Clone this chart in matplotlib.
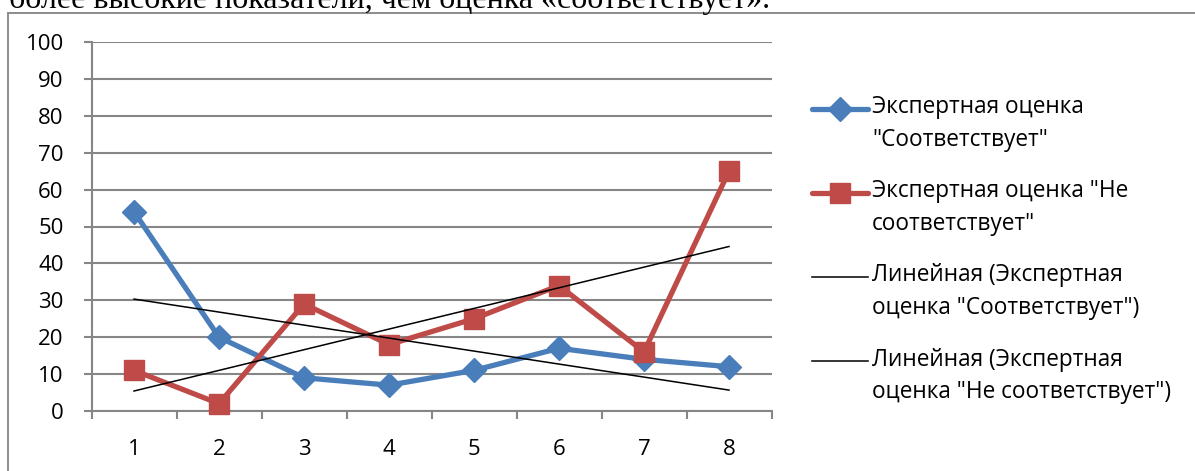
import numpy as np
import matplotlib
matplotlib.use("Agg")
import matplotlib.pyplot as plt
from matplotlib.patches import Rectangle
from matplotlib.ticker import FixedLocator, MultipleLocator
from matplotlib.legend_handler import HandlerLine2D

# ---- data ----
categories = [1, 2, 3, 4, 5, 6, 7, 8]
sootv = [54, 20, 9, 7, 11, 17, 14, 12]
ne_sootv = [11, 2, 29, 18, 25, 34, 16, 65]
label_sootv = 'Экспертная оценка\n"Соответствует"'
label_ne = 'Экспертная оценка "Не\nсоответствует"'
label_tr1 = 'Линейная (Экспертная\nоценка "Соответствует")'
label_tr2 = 'Линейная (Экспертная\nоценка "Не соответствует")'
top_text = 'более высокие показатели, чем оценка «соответствует».'

W, H = 1195, 471
plt.rcParams['font.family'] = ['Open Sans', 'DejaVu Sans']

fig = plt.figure(figsize=(W / 100, H / 100), dpi=100)
fig.patch.set_facecolor('white')

# chart frame (cropped)
fig.add_artist(Rectangle((8 / W, -0.2), 2.0, (H - 13) / H + 0.2,
                         transform=fig.transFigure, fill=False,
                         edgecolor='#8c8c8c', linewidth=1.4, clip_on=False))

fig.text(9 / W, 1 - 8 / H, top_text, family='Liberation Serif', fontsize=23,
         va='baseline', ha='left', color='black')

ax = fig.add_axes([91.5 / W, 60 / H, 680 / W, 369 / H])
ax.set_xlim(0.5, 8.5)
ax.set_ylim(0, 100)

grid_c = '#868686'
ax.yaxis.set_major_locator(MultipleLocator(10))
ax.grid(axis='y', color=grid_c, linewidth=1.5, zorder=0)
ax.set_axisbelow(True)
for s in ['top', 'right']:
    ax.spines[s].set_visible(False)
for s in ['left', 'bottom']:
    ax.spines[s].set_color(grid_c)
    ax.spines[s].set_linewidth(1.5)

ax.set_xticks(categories)
ax.set_xticklabels([str(c) for c in categories])
ax.xaxis.set_minor_locator(FixedLocator(np.arange(0.5, 9.0, 1.0)))
ax.tick_params(axis='x', which='major', length=0, pad=20, labelsize=16)
ax.tick_params(axis='x', which='minor', length=6, width=1.5, color=grid_c, direction='out')
ax.tick_params(axis='y', which='major', length=6, width=1.5, color=grid_c,
               direction='out', pad=14, labelsize=16)

blue = '#4A7EBB'
red = '#BE4B48'
x = np.array(categories, dtype=float)
l1, = ax.plot(x, sootv, color=blue, linewidth=3.8, marker='D', markersize=12.5,
              zorder=3, clip_on=False, solid_capstyle='round', solid_joinstyle='round')
l2, = ax.plot(x, ne_sootv, color=red, linewidth=3.8, marker='s', markersize=14.5,
              zorder=4, clip_on=False, solid_capstyle='round', solid_joinstyle='round')

k1, b1 = np.polyfit(x, sootv, 1)
k2, b2 = np.polyfit(x, ne_sootv, 1)
t1, = ax.plot(x, k1 * x + b1, color='black', linewidth=1.1, zorder=5)
t2, = ax.plot(x, k2 * x + b2, color='black', linewidth=1.1, zorder=5)


class FirstLineHandler(HandlerLine2D):
    """Legend key aligned with the first line of a two-line label (Excel style)."""

    def __init__(self, shift_pt, **kw):
        super().__init__(**kw)
        self.shift_pt = shift_pt

    def create_artists(self, legend, orig_handle, xdescent, ydescent, width,
                       height, fontsize, trans):
        return super().create_artists(legend, orig_handle, xdescent,
                                      ydescent - 2 * self.shift_pt, width,
                                      height, fontsize, trans)


handles = [l1, l2, t1, t2]
labels = [label_sootv, label_ne, label_tr1, label_tr2]
fs = 16.3
hmap = {h: FirstLineHandler(11.5) for h in handles}
leg = fig.legend(handles, labels, handler_map=hmap,
                 loc='upper left', bbox_to_anchor=(812 / W, 1 - 95 / H),
                 frameon=False, fontsize=fs, handlelength=2.48,
                 handletextpad=0.18, labelspacing=1.2, borderaxespad=0,
                 borderpad=0)
for t in leg.get_texts():
    t.set_linespacing(1.5)

fig.savefig('out.png', dpi=100)
